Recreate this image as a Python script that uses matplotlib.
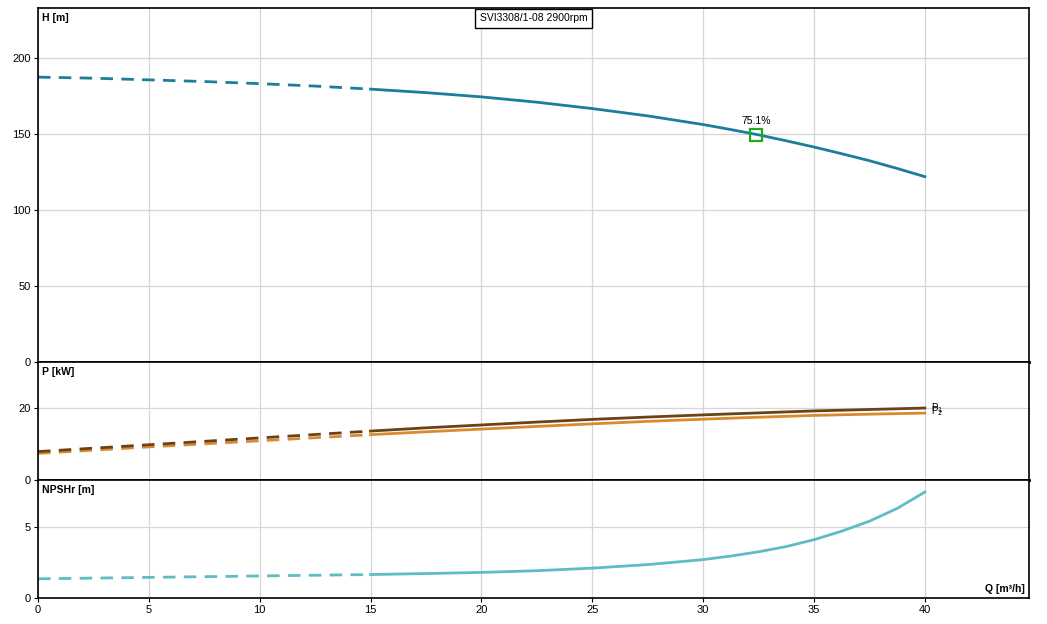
import numpy as np
import matplotlib
matplotlib.use("Agg")
import matplotlib.pyplot as plt

plt.rcParams['font.family'] = ['Liberation Sans', 'DejaVu Sans']

# values (Q in m3/h)
q = [0, 2.5, 5, 7.5, 10, 12.5, 15, 17.5, 20, 22.5, 25, 27.5, 30, 31.25,
     32.5, 33.75, 35, 36.25, 37.5, 38.75, 40]
head = [187.5, 186.8, 185.7, 184.6, 183.2, 181.6, 179.6, 177.3, 174.5, 171.0,
        166.8, 162.0, 156.3, 153.0, 149.5, 145.6, 141.5, 137.1, 132.5, 127.4, 122.0]
p1 = [7.9, 8.85, 9.8, 10.75, 11.7, 12.65, 13.6, 14.5, 15.3, 16.1,
      16.85, 17.5, 18.1, 18.38, 18.65, 18.93, 19.2, 19.4, 19.6, 19.8, 20.0]
p2 = [7.4, 8.3, 9.2, 10.05, 10.9, 11.75, 12.6, 13.4, 14.15, 14.9,
      15.6, 16.3, 16.9, 17.18, 17.45, 17.7, 17.95, 18.13, 18.3, 18.45, 18.6]
npsh = [1.35, 1.4, 1.45, 1.5, 1.55, 1.6, 1.65, 1.72, 1.8, 1.92,
        2.1, 2.35, 2.7, 2.95, 3.25, 3.62, 4.1, 4.7, 5.4, 6.3, 7.45]
q_split = 15
bep_q, bep_h, bep_eta = 32.4, 149.3, "75.1%"
title = "SVI3308/1-08 2900rpm"

q = np.array(q)
dash = q <= q_split
solid = q >= q_split

fig = plt.figure(figsize=(10.47, 6.24), dpi=100)
L, W = 38 / 1047, 991 / 1047
axH = fig.add_axes([L, 1 - 362 / 624, W, 354 / 624])
axP = fig.add_axes([L, 1 - 480 / 624, W, 118 / 624], sharex=axH)
axN = fig.add_axes([L, 1 - 598 / 624, W, 118 / 624], sharex=axH)

for ax in (axH, axP, axN):
    ax.set_xlim(0, 44.7)
    ax.set_xticks(np.arange(0, 41, 5))
    ax.grid(True, color='#d6d6d6', lw=0.9)
    ax.set_axisbelow(True)
    for s in ax.spines.values():
        s.set_color('black')
        s.set_linewidth(1.2)
    ax.tick_params(labelsize=8, length=3, color='black', pad=2)
for ax in (axH, axP):
    ax.tick_params(labelbottom=False, bottom=False)
    ax.spines['bottom'].set_linewidth(2)

dsh = (0, (4.5, 3))

# head
hc = '#1b7e9c'
axH.plot(q[dash], np.array(head)[dash], color=hc, lw=2, ls=dsh)
axH.plot(q[solid], np.array(head)[solid], color=hc, lw=2)
axH.plot(bep_q, bep_h, marker='s', ms=8, mfc='none', mec='#1faa1f', mew=1.6)
axH.text(bep_q, bep_h + 6, bep_eta, ha='center', va='bottom', fontsize=7.5)
axH.set_ylim(0, 233)
axH.set_yticks([0, 50, 100, 150, 200])
axH.text(0.004, 0.985, "H [m]", transform=axH.transAxes, fontsize=7.5,
         fontweight='bold', va='top', ha='left')
axH.text(0.5, 0.985, title, transform=axH.transAxes, fontsize=7.5, ha='center',
         va='top', bbox=dict(boxstyle='square,pad=0.45', fc='white', ec='black', lw=1))

# power
c1, c2 = '#6b4218', '#d98a2b'
axP.plot(q[dash], np.array(p2)[dash], color=c2, lw=2, ls=dsh)
axP.plot(q[solid], np.array(p2)[solid], color=c2, lw=2)
axP.plot(q[dash], np.array(p1)[dash], color=c1, lw=2, ls=dsh)
axP.plot(q[solid], np.array(p1)[solid], color=c1, lw=2)
axP.text(40.3, p1[-1], r'P$_1$', fontsize=7, va='center', ha='left')
axP.text(40.3, p2[-1] + 0.6, r'P$_2$', fontsize=7, va='center', ha='left')
axP.set_ylim(0, 32.8)
axP.set_yticks([0, 20])
axP.text(0.004, 0.96, "P [kW]", transform=axP.transAxes, fontsize=7.5,
         fontweight='bold', va='top', ha='left')

# npsh
nc = '#5fbcc4'
axN.plot(q[dash], np.array(npsh)[dash], color=nc, lw=2, ls=dsh)
axN.plot(q[solid], np.array(npsh)[solid], color=nc, lw=2)
axN.set_ylim(0, 8.3)
axN.set_yticks([0, 5])
axN.text(0.004, 0.96, "NPSHr [m]", transform=axN.transAxes, fontsize=7.5,
         fontweight='bold', va='top', ha='left')
axN.text(0.996, 0.03, "Q [m³/h]", transform=axN.transAxes, fontsize=7.5,
         fontweight='bold', va='bottom', ha='right')

fig.savefig("out.png", dpi=100)
